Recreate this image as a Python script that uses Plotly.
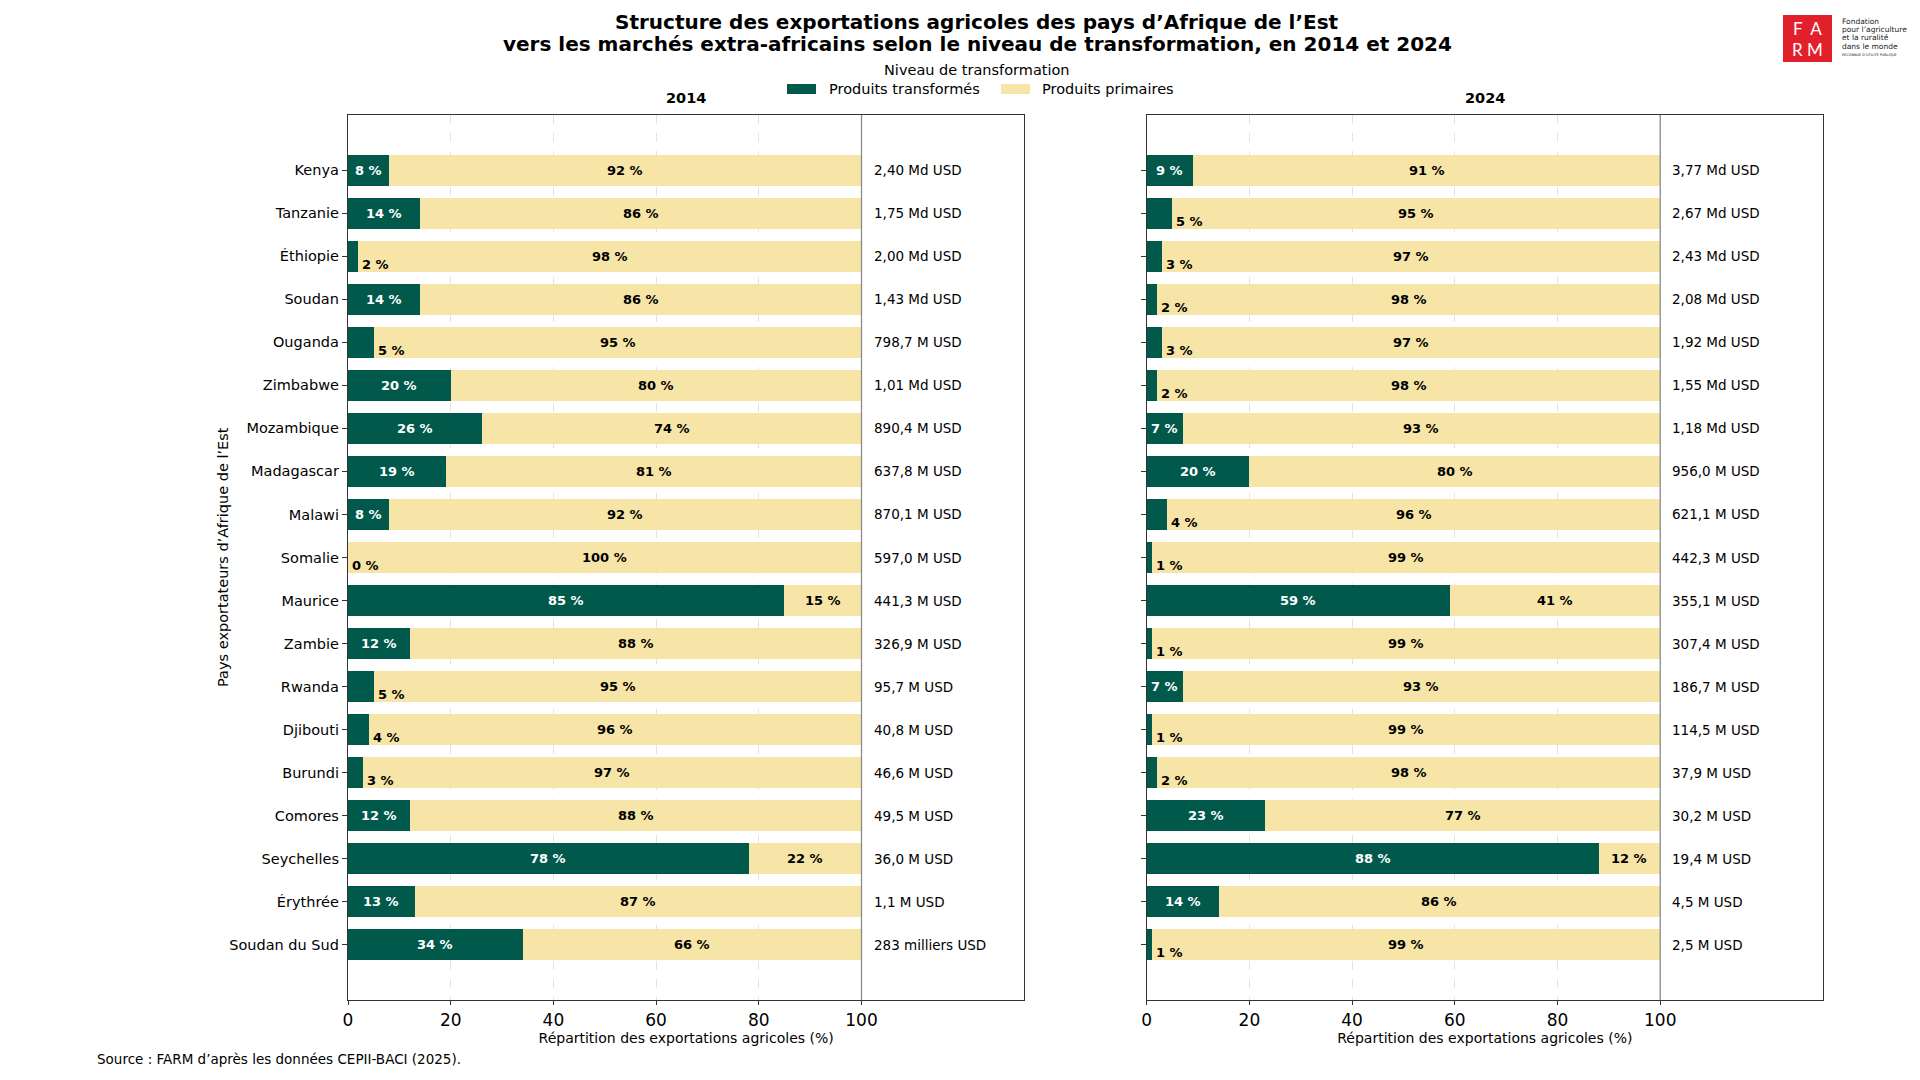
import plotly.graph_objects as go
from plotly.subplots import make_subplots

pays = ["Kenya", "Tanzanie", "Éthiopie", "Soudan", "Ouganda", "Zimbabwe",
        "Mozambique", "Madagascar", "Malawi", "Somalie", "Maurice", "Zambie",
        "Rwanda", "Djibouti", "Burundi", "Comores", "Seychelles", "Érythrée",
        "Soudan du Sud"]

transf_2014 = [8, 14, 2, 14, 5, 20, 26, 19, 8, 0, 85, 12, 5, 4, 3, 12, 78, 13, 34]
prim_2014 = [92, 86, 98, 86, 95, 80, 74, 81, 92, 100, 15, 88, 95, 96, 97, 88, 22, 87, 66]
total_2014 = ["2,40 Md USD", "1,75 Md USD", "2,00 Md USD", "1,43 Md USD", "798,7 M USD",
              "1,01 Md USD", "890,4 M USD", "637,8 M USD", "870,1 M USD", "597,0 M USD",
              "441,3 M USD", "326,9 M USD", "95,7 M USD", "40,8 M USD", "46,6 M USD",
              "49,5 M USD", "36,0 M USD", "1,1 M USD", "283 milliers USD"]

transf_2024 = [9, 5, 3, 2, 3, 2, 7, 20, 4, 1, 59, 1, 7, 1, 2, 23, 88, 14, 1]
prim_2024 = [91, 95, 97, 98, 97, 98, 93, 80, 96, 99, 41, 99, 93, 99, 98, 77, 12, 86, 99]
total_2024 = ["3,77 Md USD", "2,67 Md USD", "2,43 Md USD", "2,08 Md USD", "1,92 Md USD",
              "1,55 Md USD", "1,18 Md USD", "956,0 M USD", "621,1 M USD", "442,3 M USD",
              "355,1 M USD", "307,4 M USD", "186,7 M USD", "114,5 M USD", "37,9 M USD",
              "30,2 M USD", "19,4 M USD", "4,5 M USD", "2,5 M USD"]

VERT = "#00594b"
JAUNE = "#f6e5a6"
FONT = "DejaVu Sans"

# page offset (html body margin) and figure size
OFF = 8
W, H = 1920 - 2 * OFF, 1080 - 2 * OFF
# plot area in page pixels
L, R, T, B = 348 - OFF, 1823 - OFF, 115 - OFF, 1000 - OFF


def px_x(x):
    # page pixel -> paper coordinate
    return (x - OFF - L) / (R - L)


def px_y(y):
    return (B - (y - OFF)) / (B - T)


fig = make_subplots(rows=1, cols=2, horizontal_spacing=0.083, shared_yaxes=False)

annots = []
for col, (tr, pr, tot) in enumerate([(transf_2014, prim_2014, total_2014),
                                      (transf_2024, prim_2024, total_2024)], start=1):
    fig.add_trace(go.Bar(y=pays, x=tr, orientation="h", marker_color=VERT, width=0.72,
                         name="Produits transformés", showlegend=False,
                         marker_line_width=0), row=1, col=col)
    fig.add_trace(go.Bar(y=pays, x=pr, base=tr, orientation="h", marker_color=JAUNE, width=0.72,
                         name="Produits primaires", showlegend=False,
                         marker_line_width=0), row=1, col=col)
    xref = "x" if col == 1 else "x2"
    yref = "y" if col == 1 else "y2"
    for p, t, q, s in zip(pays, tr, pr, tot):
        if t >= 6:
            annots.append(dict(x=t / 2, y=p, xref=xref, yref=yref, text="<b>%d %%</b>" % t,
                               showarrow=False, font=dict(color="white", size=13, family=FONT)))
        else:
            annots.append(dict(x=t + 0.4, y=p, xref=xref, yref=yref, text="<b>%d %%</b>" % t,
                               showarrow=False, xanchor="left", yshift=-8,
                               font=dict(color="black", size=13, family=FONT)))
        annots.append(dict(x=t + q / 2, y=p, xref=xref, yref=yref, text="<b>%d %%</b>" % q,
                           showarrow=False, font=dict(color="black", size=13, family=FONT)))
        annots.append(dict(x=102, y=p, xref=xref, yref=yref, text=s, showarrow=False,
                           xanchor="left", font=dict(color="black", size=13.5, family=FONT)))
    fig.add_shape(type="line", x0=100, x1=100, y0=0, y1=1, xref=xref, yref=yref + " domain",
                  line=dict(color="#8c8c8c", width=1.3))

    fig.update_xaxes(range=[0, 131.7], tickvals=[0, 20, 40, 60, 80, 100],
                     showgrid=True, gridcolor="#e3e3e3", griddash="dash", gridwidth=1,
                     showline=True, linecolor="#333333", linewidth=1.3, mirror=True,
                     ticks="outside", ticklen=4, tickcolor="#333333",
                     tickfont=dict(size=17, family=FONT, color="black"),
                     title=dict(text="Répartition des exportations agricoles (%)",
                                font=dict(size=14, family=FONT, color="black"), standoff=2),
                     zeroline=False, row=1, col=col)
    fig.update_yaxes(type="category", categoryorder="array", categoryarray=pays,
                     range=[len(pays) - 1 + 1.28, -1.28],
                     showline=True, linecolor="#333333", linewidth=1.3, mirror=True,
                     ticks="outside", ticklen=5, tickcolor="#333333",
                     showticklabels=(col == 1), showgrid=False,
                     tickfont=dict(size=14.5, family=FONT, color="black"), row=1, col=col)


def note(text, x, y, size, xanchor="center", color="black", angle=0, family=FONT):
    annots.append(dict(x=px_x(x), y=px_y(y), xref="paper", yref="paper", text=text,
                       xanchor=xanchor, yanchor="middle", showarrow=False, textangle=angle,
                       font=dict(size=size, family=family, color=color)))


def boite(x0, x1, y0, y1, color):
    fig.add_shape(type="rect", xref="paper", yref="paper", x0=px_x(x0), x1=px_x(x1),
                  y0=px_y(y1), y1=px_y(y0), fillcolor=color, line_width=0)


# title (two lines)
note("<b>Structure des exportations agricoles des pays d’Afrique de l’Est</b>", 977, 22, 20)
note("<b>vers les marchés extra-africains selon le niveau de transformation, en 2014 et 2024</b>",
     977, 44, 20)

# legend drawn by hand (wide matplotlib-like handles)
note("Niveau de transformation", 977, 70, 14.5)
boite(787, 816, 84, 94, VERT)
note("Produits transformés", 827, 89, 14.5, xanchor="left")
boite(1001, 1030, 84, 94, JAUNE)
note("Produits primaires", 1040, 89, 14.5, xanchor="left")

# subplot titles
note("<b>2014</b>", 686, 98, 14.5)
note("<b>2024</b>", 1485, 98, 14.5)

# y-axis title
note("Pays exportateurs d’Afrique de l’Est", 223, 557, 14.5, angle=-90)

# source
note("Source : FARM d’après les données CEPII-BACI (2025).", 95, 1059, 13.5, xanchor="left")

# logo
boite(1783, 1832, 15, 62, "#e2202c")
note("F  A", 1807.5, 28, 17, color="white", family="Lato")
note("R M", 1807.5, 50, 17, color="white", family="Lato")
logo_lignes = ["Fondation", "pour l’agriculture", "et la ruralité", "dans le monde"]
for i, ligne in enumerate(logo_lignes):
    note(ligne, 1840, 21 + 8.5 * i, 7.5, xanchor="left", color="#222222")
note("RECONNUE D’UTILITÉ PUBLIQUE", 1840, 55, 3.4, xanchor="left", color="#222222")

fig.update_layout(
    width=W, height=H,
    margin=dict(l=L, r=W - R, t=T, b=H - B, autoexpand=False),
    barmode="stack", showlegend=False,
    plot_bgcolor="white", paper_bgcolor="white",
    annotations=annots,
    font=dict(family=FONT),
)

fig.write_html("out.html")
